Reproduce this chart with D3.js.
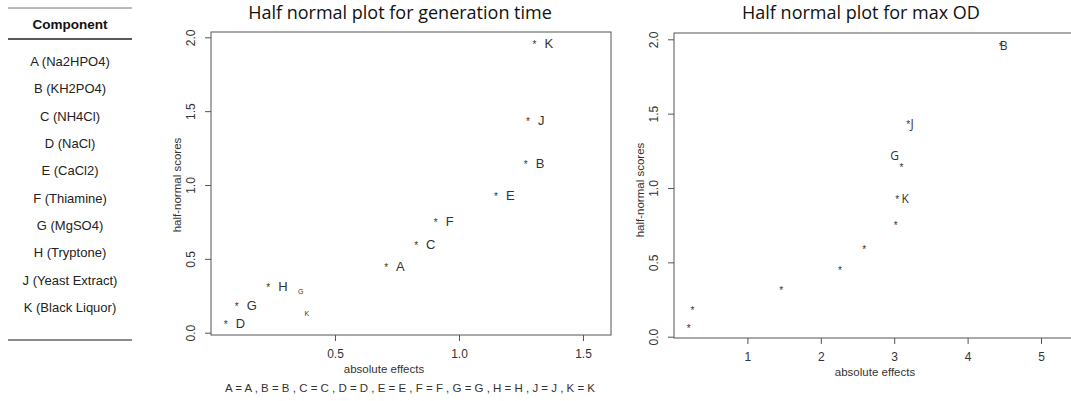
<!DOCTYPE html>
<html>
<head>
<meta charset="utf-8">
<style>
  body { margin: 0; background: #fff; }
  svg { display: block; }
</style>
</head>
<body>
<svg width="1071" height="401"></svg>
<script src="https://cdn.jsdelivr.net/npm/d3@7"></script>
<script>

    // component table
    var components = ["A (Na2HPO4)", "B (KH2PO4)", "C (NH4Cl)", "D (NaCl)", "E (CaCl2)",
        "F (Thiamine)", "G (MgSO4)", "H (Tryptone)", "J (Yeast Extract)", "K (Black Liquor)"];

    // generation time: absolute effects vs half-normal scores
    var genLabels = ["D", "G", "H", "A", "C", "F", "E", "B", "J", "K"];
    var genEffects = [0.059, 0.104, 0.231, 0.706, 0.827, 0.906, 1.149, 1.269, 1.278, 1.304];
    var genScores = [0.063, 0.189, 0.319, 0.454, 0.598, 0.755, 0.935, 1.150, 1.440, 1.960];
    // stray small letters in the generation time panel
    var genStray = [{t: "G", x: 0.362, y: 0.284}, {t: "K", x: 0.386, y: 0.136}];

    // max OD
    var odLabels = ["", "", "", "", "", "", "K", "G", "J", "B"];
    var odEffects = [0.20, 0.25, 1.46, 2.26, 2.59, 3.02, 3.04, 3.10, 3.19, 4.45];
    var odScores = [0.063, 0.189, 0.319, 0.454, 0.598, 0.755, 0.935, 1.150, 1.440, 1.960];

    var genXTicks = [0.5, 1.0, 1.5];
    var odXTicks = [1, 2, 3, 4, 5];
    var yTicks = [0.0, 0.5, 1.0, 1.5, 2.0];

    var svg = d3.select("svg");
    var axisColor = "#555";

    // ---- table on the left ----
    var tbl = svg.append("g").attr("font-family", "Liberation Sans, Arial, sans-serif");
    tbl.append("line").attr("x1", 8).attr("x2", 132).attr("y1", 8).attr("y2", 8)
        .attr("stroke", "#777").attr("stroke-width", 1);
    tbl.append("text").attr("x", 70).attr("y", 29).attr("text-anchor", "middle")
        .attr("font-size", 13.5).attr("font-weight", "bold").attr("fill", "#111").text("Component");
    tbl.append("line").attr("x1", 8).attr("x2", 132).attr("y1", 39).attr("y2", 39)
        .attr("stroke", "#222").attr("stroke-width", 1.5);
    var rowY = d3.scalePoint().domain(components).range([61, 307]);
    tbl.selectAll(".row").data(components).enter().append("text")
        .attr("x", 70).attr("y", function(d) { return rowY(d) + 5; })
        .attr("text-anchor", "middle").attr("font-size", 13).attr("fill", "#222")
        .text(function(d) { return d; });
    tbl.append("line").attr("x1", 8).attr("x2", 132).attr("y1", 340).attr("y2", 340)
        .attr("stroke", "#666").attr("stroke-width", 1.5);

    function panel(opt) {
        var g = svg.append("g").attr("font-family", "Liberation Sans, Arial, sans-serif");
        var x = d3.scaleLinear().domain([0, opt.xPerPx[0]]).range([opt.x0, opt.xPerPx[1]]);
        var y = d3.scaleLinear().domain([0, 2]).range([opt.y0, opt.y2]);

        // title
        g.append("text").attr("x", opt.titleX).attr("y", 19).attr("text-anchor", "middle")
            .attr("font-family", "Open Sans, sans-serif").attr("font-size", 18).attr("fill", "#111")
            .text(opt.title);

        // box
        g.append("rect").attr("x", opt.box[0]).attr("y", opt.box[1])
            .attr("width", opt.box[2] - opt.box[0]).attr("height", opt.box[3] - opt.box[1])
            .attr("fill", "none").attr("stroke", axisColor).attr("stroke-width", 1);

        // x axis
        var xa = g.append("g").attr("transform", "translate(0," + opt.box[3] + ")")
            .call(d3.axisBottom(x).tickValues(opt.xTicks).tickSize(6).tickPadding(8)
                .tickFormat(opt.xFmt));
        xa.select(".domain").remove();
        xa.selectAll("line").attr("stroke", axisColor);
        xa.selectAll("text").attr("font-size", 12).attr("fill", "#333")
            .attr("font-family", "Liberation Sans, Arial, sans-serif");

        // y axis
        var ya = g.append("g").attr("transform", "translate(" + opt.box[0] + ",0)")
            .call(d3.axisLeft(y).tickValues(yTicks).tickSize(6).tickFormat(d3.format(".1f")));
        ya.select(".domain").remove();
        ya.selectAll("line").attr("stroke", axisColor);
        ya.selectAll("text")
            .attr("font-size", 12).attr("fill", "#333")
            .attr("font-family", "Liberation Sans, Arial, sans-serif")
            .attr("x", null).attr("dy", null)
            .attr("text-anchor", "middle")
            .attr("transform", "translate(-16,0) rotate(-90)")
            .attr("y", 0);

        // axis titles
        g.append("text").attr("x", (opt.box[0] + opt.box[2]) / 2 - opt.xlabShift)
            .attr("y", opt.box[3] + 38).attr("text-anchor", "middle")
            .attr("font-size", 11.5).attr("fill", "#333").text("absolute effects");
        g.append("text").attr("transform", "translate(" + (opt.box[0] - 30) + "," + opt.ylabY + ") rotate(-90)")
            .attr("text-anchor", "middle").attr("font-size", 11.5).attr("fill", "#333")
            .text("half-normal scores");

        var pts = opt.effects.map(function(e, i) {
            return {x: e, y: opt.scores[i], label: opt.labels[i]};
        });

        // points drawn as "*" like R pch
        g.selectAll(".pt").data(pts).enter().append("text")
            .attr("x", function(d) { return x(d.x); })
            .attr("y", function(d) { return y(d.y) + 5; })
            .attr("text-anchor", "middle").attr("font-size", 10).attr("fill", "#333")
            .text("*");

        return {g: g, x: x, y: y, pts: pts};
    }

    // generation time panel
    var p1 = panel({
        title: "Half normal plot for generation time", titleX: 400,
        x0: 211, xPerPx: [1.5, 583], y0: 332.7, y2: 37.3,
        box: [211, 32, 611, 335], xTicks: genXTicks, xFmt: d3.format(".1f"),
        effects: genEffects, scores: genScores, labels: genLabels, xlabShift: 27, ylabY: 185
    });
    p1.g.selectAll(".lab").data(p1.pts).enter().append("text")
        .attr("x", function(d) { return p1.x(d.x) + 10; })
        .attr("y", function(d) { return p1.y(d.y) + 5; })
        .attr("font-size", 13).attr("fill", "#333")
        .text(function(d) { return d.label; });
    p1.g.selectAll(".stray").data(genStray).enter().append("text")
        .attr("x", function(d) { return p1.x(d.x); })
        .attr("y", function(d) { return p1.y(d.y) + 3; })
        .attr("text-anchor", "middle").attr("font-size", 7).attr("fill", "#333")
        .text(function(d) { return d.t; });
    p1.g.append("text").attr("x", 410).attr("y", 392).attr("text-anchor", "middle")
        .attr("font-size", 11.5).attr("fill", "#333")
        .text(genLabels.slice().sort().map(function(l) { return l + " = " + l; }).join(" ,  "));

    // max OD panel
    var p2 = panel({
        title: "Half normal plot for max OD", titleX: 861,
        x0: 674, xPerPx: [5, 1041], y0: 336.7, y2: 39.3,
        box: [674, 33, 1080, 338], xTicks: odXTicks, xFmt: d3.format("d"),
        effects: odEffects, scores: odScores, labels: odLabels, xlabShift: 2, ylabY: 190
    });
    var odOff = {K: [8, 5], G: [-7, -6], J: [4, 5], B: [3, 5]};
    p2.g.selectAll(".lab").data(p2.pts.filter(function(d) { return d.label; })).enter().append("text")
        .attr("x", function(d) { return p2.x(d.x) + odOff[d.label][0]; })
        .attr("y", function(d) { return p2.y(d.y) + odOff[d.label][1]; })
        .attr("text-anchor", "middle")
        .attr("font-family", "Open Sans, sans-serif").attr("font-size", 12).attr("fill", "#333")
        .text(function(d) { return d.label; });

</script>
</body>
</html>
